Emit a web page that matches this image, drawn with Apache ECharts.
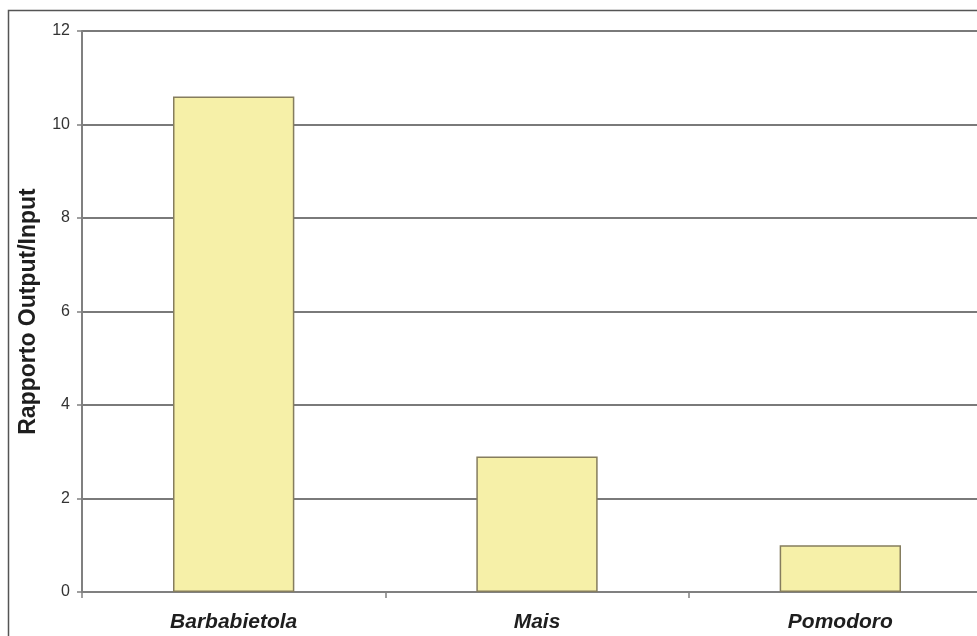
<!DOCTYPE html>
<html>
<head>
<meta charset="utf-8">
<script src="https://cdn.jsdelivr.net/npm/echarts@6/dist/echarts.min.js"></script>
<style>
  html, body { margin: 0; padding: 0; background: #ffffff; }
  #chart { width: 977px; height: 636px; }
</style>
</head>
<body>
<div id="chart"></div>
<script>
// Output/input ratio per crop
const categories = ['Barbabietola', 'Mais', 'Pomodoro'];
const ratios = [10.6, 2.9, 1.0];
const yTicks = [0, 2, 4, 6, 8, 10, 12];

const chart = echarts.init(document.getElementById('chart'));
chart.setOption({
  backgroundColor: '#ffffff',
  animation: false,
  graphic: [{
    type: 'rect',
    shape: { x: 8.5, y: 10.5, width: 1100, height: 800 },
    style: { fill: 'none', stroke: '#555555', lineWidth: 1.5 },
    silent: true,
    z: -1
  }],
  // plot area continues past the right edge of the page
  grid: { left: 82, top: 31, width: 910, height: 561, outerBoundsMode: 'none', containLabel: false },
  xAxis: {
    type: 'category',
    data: categories,
    axisLine: { lineStyle: { color: '#808080', width: 2 } },
    axisTick: { show: true, length: 6, lineStyle: { color: '#808080', width: 1.5 } },
    axisLabel: {
      margin: 20,
      fontFamily: 'Liberation Sans, Arial, sans-serif',
      fontSize: 21,
      fontWeight: 'bold',
      fontStyle: 'italic',
      color: '#1e1e1e'
    }
  },
  yAxis: {
    type: 'value',
    min: yTicks[0],
    max: yTicks[yTicks.length - 1],
    interval: 2,
    name: 'Rapporto Output/Input',
    nameLocation: 'middle',
    nameGap: 42,
    nameTextStyle: {
      fontFamily: 'Liberation Sans, Arial, sans-serif',
      fontSize: 23,
      fontWeight: 'bold',
      color: '#1e1e1e'
    },
    axisLine: { show: true, lineStyle: { color: '#808080', width: 2 } },
    axisTick: { show: true, length: 5, lineStyle: { color: '#808080', width: 1.5 } },
    axisLabel: {
      margin: 12,
      fontFamily: 'Liberation Sans, Arial, sans-serif',
      fontSize: 16,
      color: '#333333'
    },
    splitLine: { lineStyle: { color: '#7a7a7a', width: 2 } }
  },
  series: [{
    type: 'bar',
    data: ratios,
    barWidth: '40%',
    itemStyle: {
      color: '#f6f0a8',
      borderColor: '#857d5e',
      borderWidth: 1.5
    }
  }]
});
</script>
</body>
</html>
